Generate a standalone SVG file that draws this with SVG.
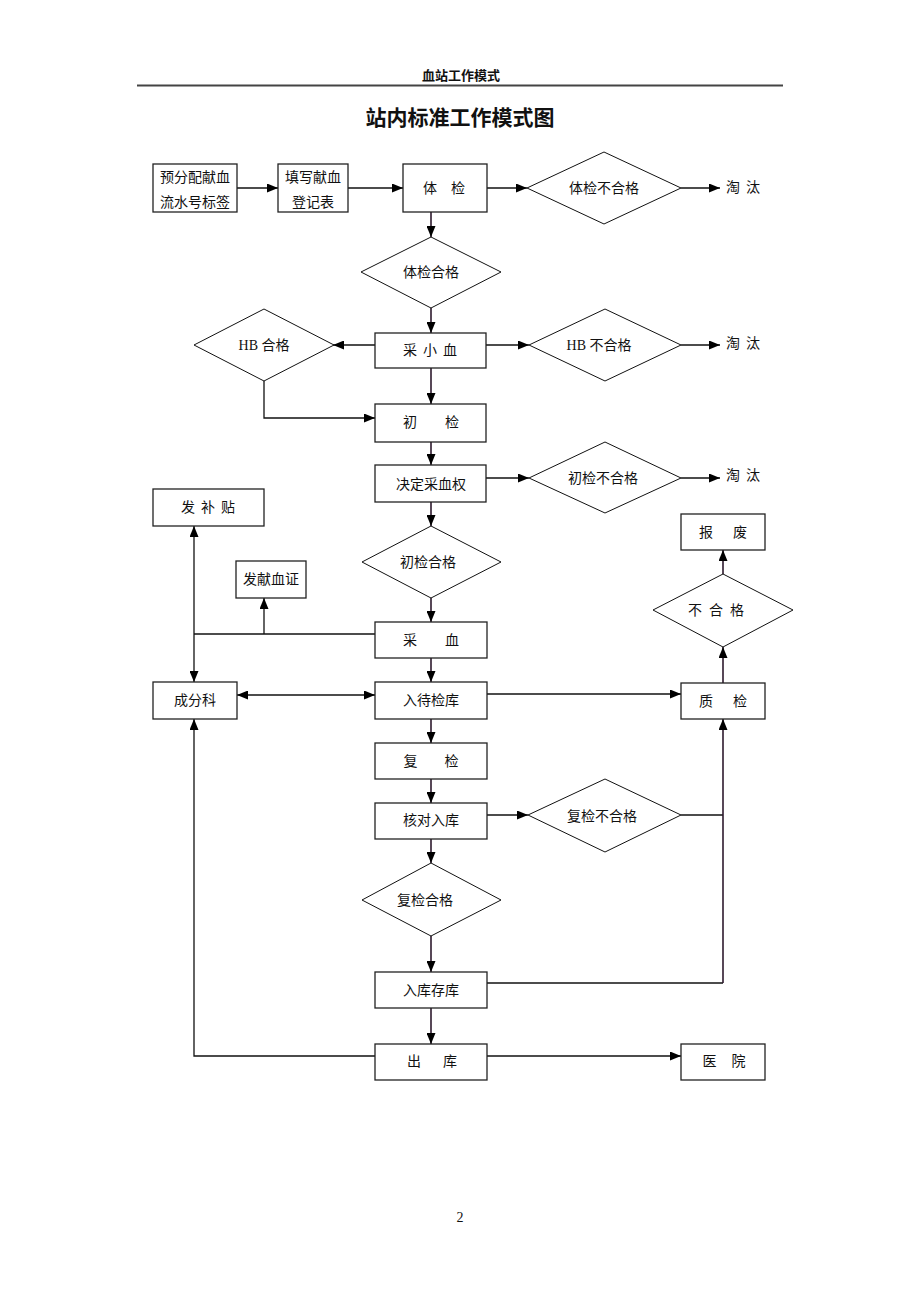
<svg xmlns="http://www.w3.org/2000/svg" width="920" height="1302" viewBox="0 0 920 1302">
<style>
.box{fill:#fff;stroke:#222;stroke-width:1.3}
.dia{fill:#fff;stroke:#111;stroke-width:1}
.t{font-family:"Liberation Serif","Noto Sans CJK SC",serif;font-size:14px;fill:#111;text-anchor:middle}
.ln{fill:none;stroke:#111;stroke-width:1.3}
.lv{fill:none;stroke:#2e1a2e;stroke-width:1.6}
.ar{marker-end:url(#ah)}
</style>
<defs>
<marker id="ah" markerUnits="userSpaceOnUse" markerWidth="11" markerHeight="9" refX="11" refY="4.5" orient="auto-start-reverse">
<path d="M0,0 L11,4.5 L0,9 z" fill="#000"/>
</marker>
</defs>
<rect width="920" height="1302" fill="#fff"/>
<text x="461" y="80" style="font-family:'Liberation Serif','Noto Sans CJK SC',serif;font-size:13px;font-weight:bold;text-anchor:middle;fill:#111">血站工作模式</text>
<line x1="137" y1="85.5" x2="783" y2="85.5" stroke="#444" stroke-width="2"/>
<text x="460" y="125" style="font-family:'Liberation Serif','Noto Sans CJK SC',serif;font-size:21px;font-weight:bold;text-anchor:middle;fill:#111">站内标准工作模式图</text>

<g id="connectors">
<path class="ln ar" d="M237,188 H278"/>
<path class="ln ar" d="M348,188 H403"/>
<path class="ln ar" d="M487,188 H527"/>
<path class="ln ar" d="M681,188 H720"/>
<path class="lv ar" d="M431,212 V237"/>
<path class="lv ar" d="M431,308 V333"/>
<path class="ln ar" d="M375,345 H333"/>
<path class="ln ar" d="M486,345 H529"/>
<path class="ln ar" d="M681,345 H720"/>
<path class="ln ar" d="M264,381 V418 H375"/>
<path class="lv ar" d="M431,368 V404"/>
<path class="lv ar" d="M431,442 V465"/>
<path class="ln ar" d="M486,478 H529"/>
<path class="ln ar" d="M681,478 H720"/>
<path class="lv ar" d="M431,502 V526"/>
<path class="lv ar" d="M431,598 V622"/>
<path class="ln" d="M375,634 H194"/>
<path class="ln ar" d="M264,634 V598"/>
<path class="ln ar" d="M194,634 V526"/>
<path class="ln ar" d="M194,634 V682"/>
<path class="ln ar" d="M237,695 H375" style="marker-start:url(#ah)"/>
<path class="lv ar" d="M431,658 V682"/>
<path class="ln ar" d="M487,694 H681"/>
<path class="lv ar" d="M723,683 V647"/>
<path class="lv ar" d="M723,574 V550"/>
<path class="lv ar" d="M431,719 V743"/>
<path class="lv ar" d="M431,779 V803"/>
<path class="ln ar" d="M487,815 H528"/>
<path class="ln" d="M681,815 H723"/>
<path class="ln" d="M487,983 H723"/>
<path class="lv ar" d="M723,983 V719"/>
<path class="lv ar" d="M431,839 V863"/>
<path class="lv ar" d="M431,936 V972"/>
<path class="lv ar" d="M431,1008 V1044"/>
<path class="ln ar" d="M375,1056 H194 V719"/>
<path class="ln ar" d="M487,1056 H681"/>
</g>

<g id="n-yufenpei"><rect class="box" x="153" y="164" width="84" height="48"/>
<text class="t" x="195" y="182">预分配献血</text><text class="t" x="195" y="207">流水号标签</text></g>
<g id="n-tianxie"><rect class="box" x="278" y="164" width="70" height="48"/>
<text class="t" x="313" y="182">填写献血</text><text class="t" x="313" y="207">登记表</text></g>
<g id="n-tijian"><rect class="box" x="403" y="164" width="84" height="48"/>
<text class="t" x="444" y="193">体<tspan dx="14">检</tspan></text></g>
<g id="n-tijian-buhege"><polygon class="dia" points="527,188 604,152 681,188 604,224"/>
<text class="t" x="604" y="193">体检不合格</text></g>
<g id="n-taotai1"><text class="t" x="743" y="192">淘<tspan dx="6">汰</tspan></text></g>
<g id="n-tijian-hege"><polygon class="dia" points="361,272 431,237 501,272 431,308"/>
<text class="t" x="431" y="277">体检合格</text></g>
<g id="n-caixiaoxue"><rect class="box" x="375" y="333" width="111" height="35"/>
<text class="t" x="430" y="355">采<tspan dx="6">小</tspan><tspan dx="6">血</tspan></text></g>
<g id="n-hb-hege"><polygon class="dia" points="194,345 264,309 334,345 264,381"/>
<text class="t" x="264" y="350">HB 合格</text></g>
<g id="n-hb-buhege"><polygon class="dia" points="529,345 605,309 681,345 605,381"/>
<text class="t" x="599" y="350">HB 不合格</text></g>
<g id="n-taotai2"><text class="t" x="743" y="348">淘<tspan dx="6">汰</tspan></text></g>
<g id="n-chujian"><rect class="box" x="375" y="404" width="111" height="38"/>
<text class="t" x="431" y="427">初<tspan dx="28">检</tspan></text></g>
<g id="n-jueding"><rect class="box" x="375" y="465" width="111" height="37"/>
<text class="t" x="431" y="489">决定采血权</text></g>
<g id="n-chujian-buhege"><polygon class="dia" points="529,478 605,442 681,478 605,513"/>
<text class="t" x="603" y="483">初检不合格</text></g>
<g id="n-taotai3"><text class="t" x="743" y="480">淘<tspan dx="6">汰</tspan></text></g>
<g id="n-fabutie"><rect class="box" x="153" y="489" width="111" height="37"/>
<text class="t" x="208" y="512">发<tspan dx="6">补</tspan><tspan dx="6">贴</tspan></text></g>
<g id="n-chujian-hege"><polygon class="dia" points="362,562 431,526 501,562 431,598"/>
<text class="t" x="428" y="567">初检合格</text></g>
<g id="n-faxianxuezheng"><rect class="box" x="236" y="561" width="70" height="37"/>
<text class="t" x="271" y="584">发献血证</text></g>
<g id="n-caixue"><rect class="box" x="375" y="622" width="112" height="36"/>
<text class="t" x="431" y="645">采<tspan dx="28">血</tspan></text></g>
<g id="n-chengfenke"><rect class="box" x="153" y="682" width="84" height="37"/>
<text class="t" x="195" y="705">成分科</text></g>
<g id="n-rudaijianku"><rect class="box" x="375" y="682" width="112" height="37"/>
<text class="t" x="431" y="705">入待检库</text></g>
<g id="n-zhijian"><rect class="box" x="681" y="683" width="84" height="36"/>
<text class="t" x="723" y="706">质<tspan dx="20">检</tspan></text></g>
<g id="n-baofei"><rect class="box" x="681" y="514" width="84" height="36"/>
<text class="t" x="723" y="537">报<tspan dx="20">废</tspan></text></g>
<g id="n-buhege"><polygon class="dia" points="653,610 723,574 793,610 723,647"/>
<text class="t" x="716" y="615">不<tspan dx="7">合</tspan><tspan dx="7">格</tspan></text></g>
<g id="n-fujian"><rect class="box" x="375" y="743" width="112" height="36"/>
<text class="t" x="431" y="766">复<tspan dx="27">检</tspan></text></g>
<g id="n-heduiruku"><rect class="box" x="375" y="803" width="112" height="36"/>
<text class="t" x="431" y="825">核对入库</text></g>
<g id="n-fujian-buhege"><polygon class="dia" points="528,815 605,779 681,815 605,852"/>
<text class="t" x="602" y="821">复检不合格</text></g>
<g id="n-fujian-hege"><polygon class="dia" points="362,900 431,863 501,900 431,936"/>
<text class="t" x="425" y="905">复检合格</text></g>
<g id="n-rukucunku"><rect class="box" x="375" y="972" width="112" height="36"/>
<text class="t" x="431" y="995">入库存库</text></g>
<g id="n-chuku"><rect class="box" x="375" y="1044" width="112" height="36"/>
<text class="t" x="432" y="1066">出<tspan dx="22">库</tspan></text></g>
<g id="n-yiyuan"><rect class="box" x="681" y="1044" width="84" height="36"/>
<text class="t" x="724" y="1066">医<tspan dx="15">院</tspan></text></g>

<text x="460" y="1222" style="font-family:'Liberation Serif',serif;font-size:14px;text-anchor:middle;fill:#111">2</text>
</svg>
